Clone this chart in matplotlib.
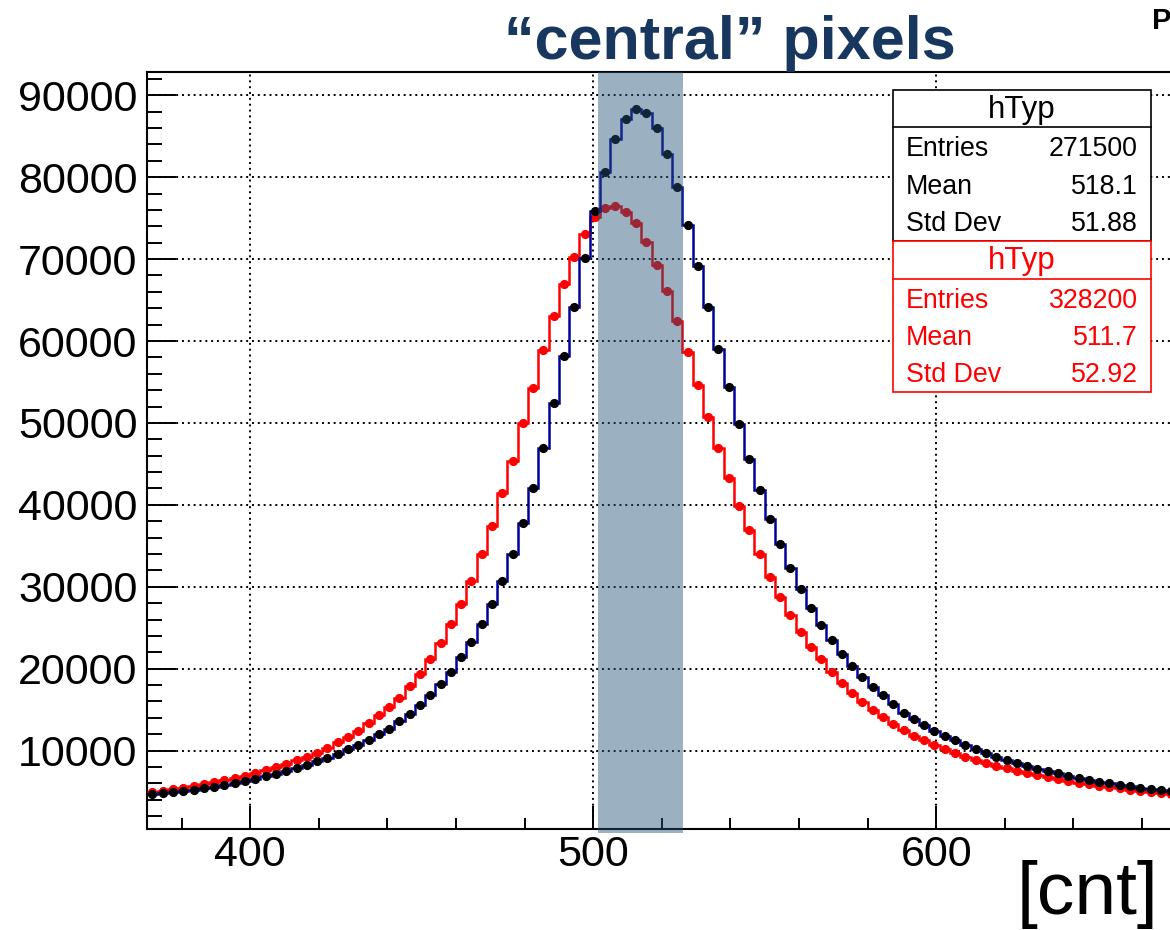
import numpy as np
import matplotlib.pyplot as plt
from matplotlib.patches import Rectangle
from matplotlib.ticker import MultipleLocator, FixedLocator

plt.rcParams['font.family'] = ['Liberation Sans', 'DejaVu Sans']

# histogram binning (bin width 3 cnt, first bin at 370)
bin_lo = 370
bin_width = 3

# bin contents
blue_counts = [
    4670, 4790, 4920, 5080, 5240, 5400, 5610, 5810, 6100, 6300,
    6540, 6910, 7190, 7520, 7890, 8290, 8740, 9070, 9590, 10160,
    10650, 11260, 12040, 12690, 13580, 14520, 15580, 16740, 18090, 19640,
    21380, 23310, 25490, 27860, 30750, 33970, 37790, 42100, 46980, 52400,
    58170, 64200, 70180, 75870, 80670, 84660, 87060, 88320, 87790, 86000,
    82870, 78800, 74160, 69200, 64200, 59070, 54430, 49830, 45640, 41820,
    38280, 35190, 32260, 29690, 27370, 25300, 23510, 21800, 20340, 18950,
    17730, 16760, 15660, 14640, 13830, 13130, 12440, 11790, 11300, 10730,
    10200, 9760, 9270, 8860, 8540, 8130, 7800, 7480, 7230, 6950,
    6660, 6420, 6220, 6010, 5810, 5650, 5480, 5360, 5240, 5120,
]
red_counts = [
    4920, 5120, 5280, 5440, 5650, 5890, 6140, 6380, 6620, 6910,
    7230, 7600, 7970, 8370, 8820, 9270, 9760, 10370, 11060, 11710,
    12400, 13340, 14310, 15370, 16430, 17890, 19400, 21150, 23150, 25400,
    27860, 30750, 33970, 37460, 41410, 45400, 49960, 54310, 58870, 63100,
    66960, 70300, 73030, 75100, 76200, 76480, 75750, 74370, 72130, 69320,
    66150, 62450, 58620, 54680, 50730, 46900, 43320, 39910, 36900, 33970,
    31200, 28720, 26560, 24530, 22700, 21150, 19640, 18300, 17080, 15980,
    14970, 14070, 13220, 12520, 11830, 11260, 10690, 10160, 9680, 9270,
    8860, 8540, 8170, 7890, 7560, 7230, 6990, 6750, 6540, 6340,
    6100, 5890, 5730, 5570, 5400, 5240, 5120, 4960, 4830, 4750,
]

x_major = [400, 500, 600]
stat_labels = ['Entries', 'Mean', 'Std Dev']
blue_stats = ['271500', '518.1', '51.88']
red_stats = ['328200', '511.7', '52.92']

# "central" pixel region
band_lo, band_hi = 501.5, 526.3

W, H = 1170, 930
fig = plt.figure(figsize=(W / 100, H / 100), dpi=100)


def fx(px):
    return px / W


def fy(py):
    return 1 - py / H


# axes run past the right edge of the picture (cropped like the slide)
ax = fig.add_axes([fx(147.3), fy(829.3), (1279.2 - 147.3) / W, (829.3 - 72.3) / H])
ax.set_xlim(370, 700)
ax.set_ylim(400, 92800)

edges = bin_lo + bin_width * np.arange(len(blue_counts) + 1)
centers = 0.5 * (edges[:-1] + edges[1:])

ax.grid(True, color='black', linestyle=(0, (1, 2)), linewidth=1.4)
ax.set_axisbelow(True)

# red histogram
ax.stairs(red_counts, edges, baseline=None, color='#ff0000', linewidth=1.8, zorder=3)
ax.plot(centers, red_counts, 'o', color='#ff0000', markersize=5.6, zorder=3)
# blue histogram
ax.stairs(blue_counts, edges, baseline=None, color='#000099', linewidth=1.8, zorder=4)
ax.plot(centers, blue_counts, 'o', color='black', markersize=5.6, zorder=4)

# shaded band drawn over the data
band = Rectangle((band_lo, -0.005), band_hi - band_lo, 1.005,
                 transform=ax.get_xaxis_transform(), facecolor='#255378',
                 alpha=0.46, edgecolor='none', zorder=6, clip_on=False)
ax.add_patch(band)

ax.xaxis.set_major_locator(FixedLocator(x_major))
ax.xaxis.set_minor_locator(MultipleLocator(20))
ax.yaxis.set_major_locator(MultipleLocator(10000))
ax.yaxis.set_minor_locator(MultipleLocator(2000))
ax.tick_params(which='both', direction='in', width=1.4, top=False, right=False,
               labelsize=31)
ax.tick_params(axis='x', which='major', length=16.5, pad=4)
ax.tick_params(axis='x', which='minor', length=8)
ax.tick_params(axis='y', which='major', length=21, pad=7)
ax.tick_params(axis='y', which='minor', length=11)
for s in ax.spines.values():
    s.set_linewidth(1.5)

# stat boxes
def stat_box(top, bottom, head, color, values):
    fig.patches.append(Rectangle((fx(893.3), fy(bottom)), fx(1151) - fx(893.3),
                                 fy(top) - fy(bottom), transform=fig.transFigure,
                                 facecolor='white', edgecolor=color, linewidth=1.2,
                                 zorder=10))
    fig.lines.append(plt.Line2D([fx(893.3), fx(1151)], [fy(head), fy(head)],
                                transform=fig.transFigure, color=color,
                                linewidth=1.2, zorder=11))
    fig.text(fx(1022), fy((top + head) / 2 + 1), 'hTyp', color=color, fontsize=22.5,
             ha='center', va='center', zorder=12)
    rows = np.linspace(head + 22, bottom - 17, 3)
    for lab, val, r in zip(stat_labels, values, rows):
        fig.text(fx(906), fy(r), lab, color=color, fontsize=19.3, ha='left',
                 va='center', zorder=12)
        fig.text(fx(1138), fy(r), val, color=color, fontsize=19.3, ha='right',
                 va='center', zorder=12)


stat_box(90, 240.7, 127.3, 'black', blue_stats)
stat_box(240.7, 391.7, 279, '#ff0000', red_stats)

fig.text(fx(730), fy(44), '\u201ccentral\u201d pixels', color='#17375e',
         fontsize=44, fontweight='bold', ha='center', va='center')
fig.text(fx(1017), fy(894), '[cnt]', fontsize=54, ha='left', va='center')
fig.text(fx(1152), fy(21), 'P', fontsize=21, fontweight='bold', ha='left',
         va='center')

fig.savefig('out.png', dpi=100)
